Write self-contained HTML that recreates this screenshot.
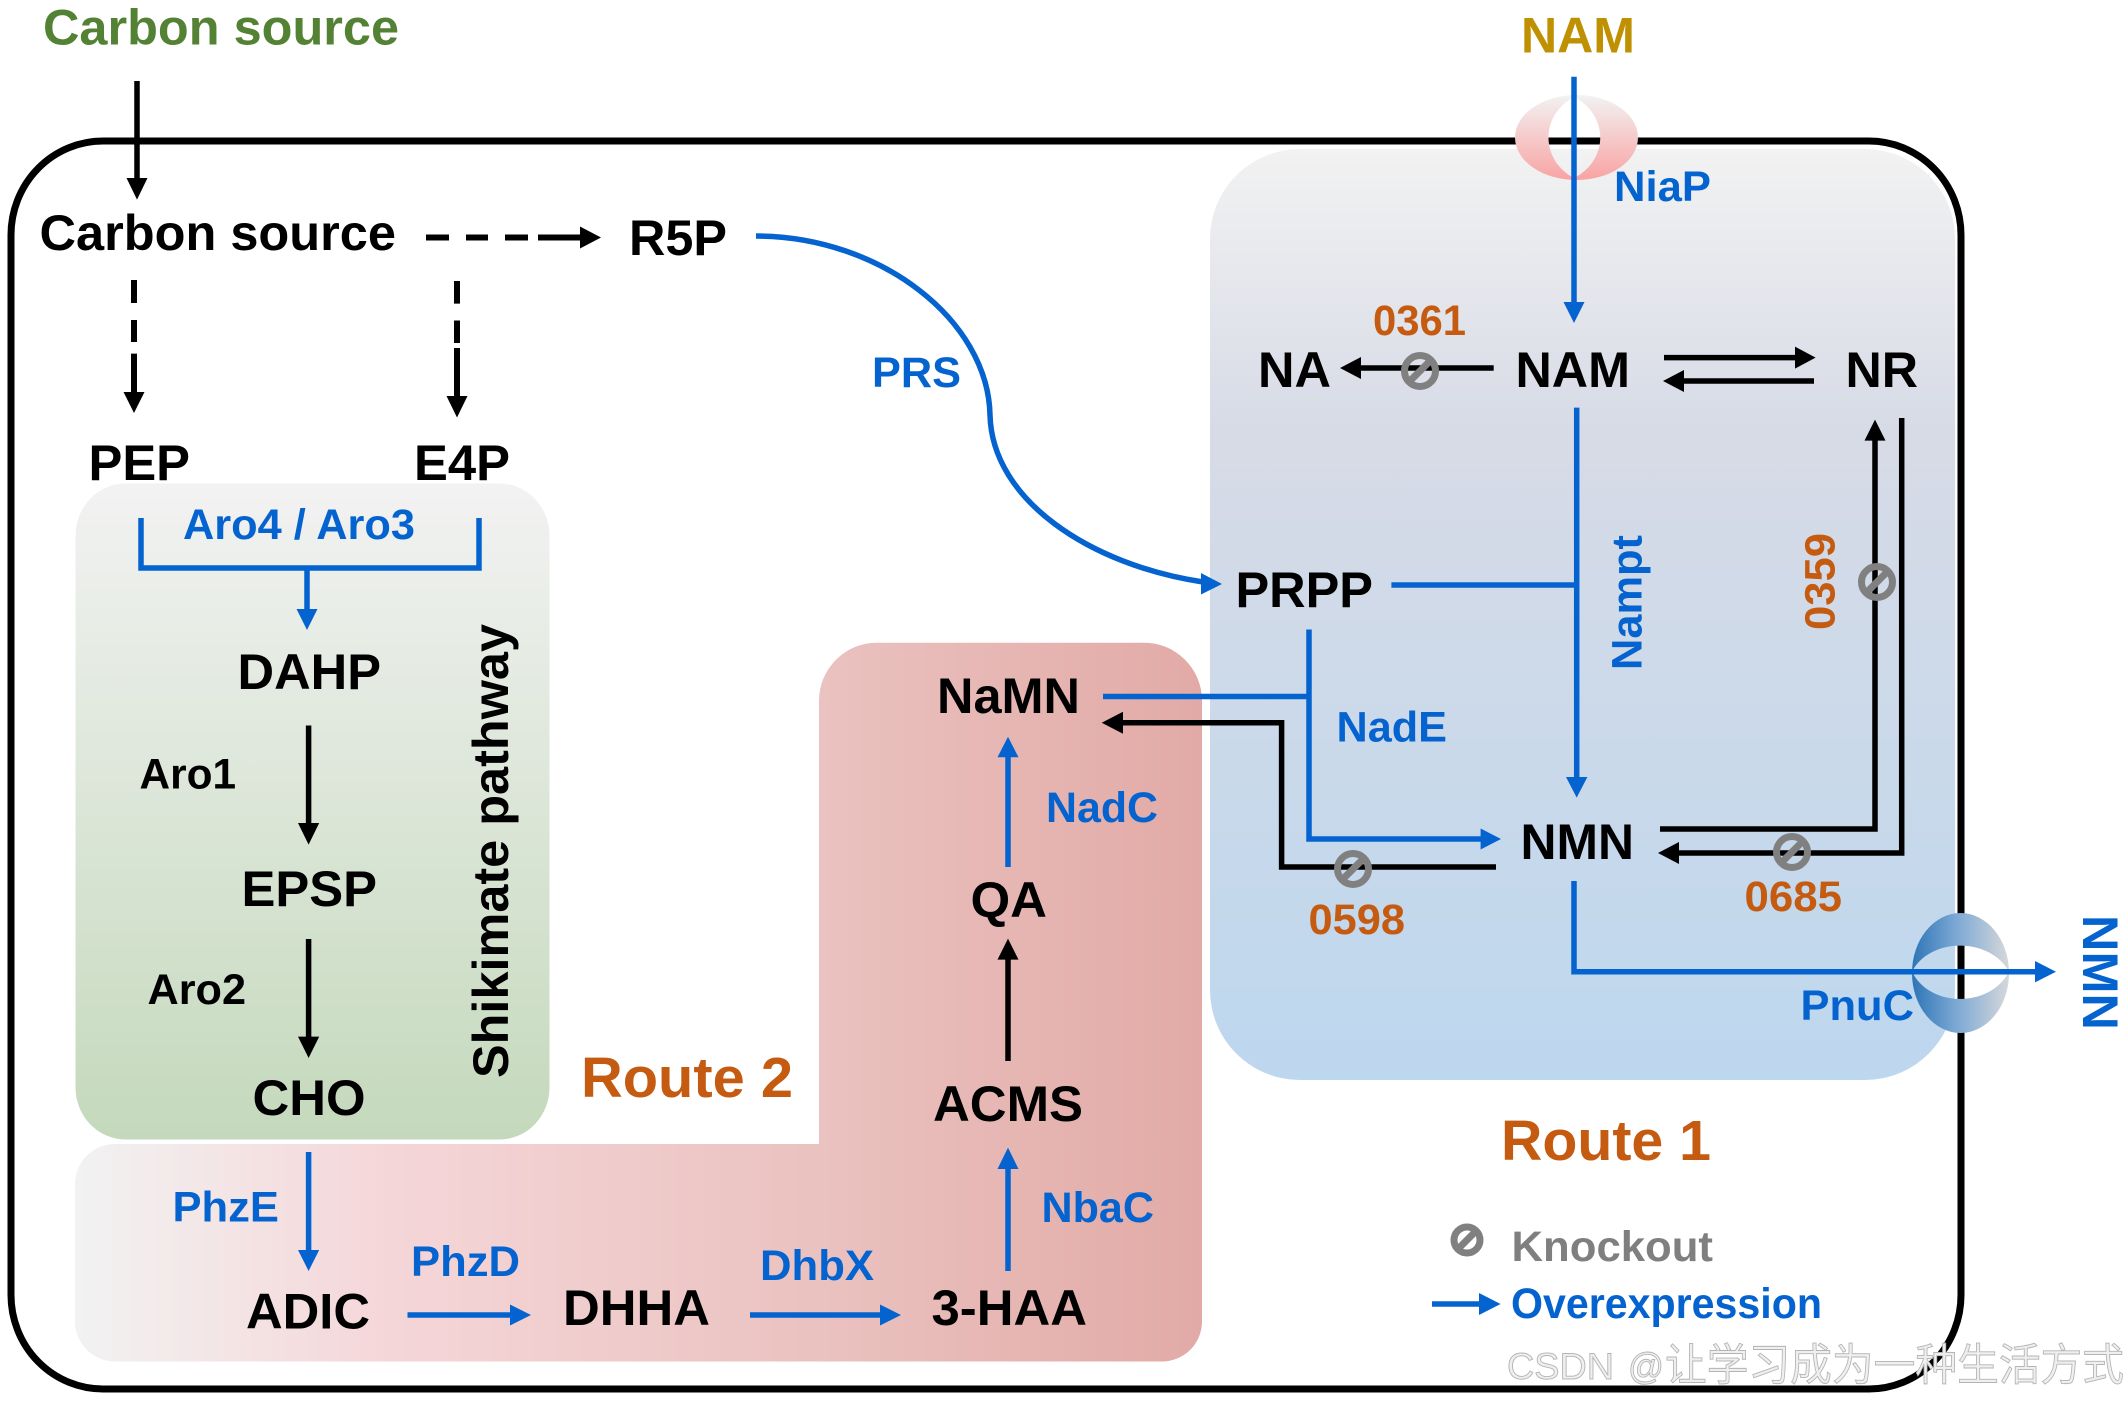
<!DOCTYPE html>
<html lang="en">
<head>
<meta charset="utf-8">
<title>NMN pathway diagram</title>
<style>
html,body{margin:0;padding:0;background:#fff;width:2128px;height:1402px;overflow:hidden}
svg{display:block}
text{font-family:"Liberation Sans","Noto Sans CJK SC",sans-serif;font-weight:bold}
.k{fill:#000;font-size:50px}
.b{fill:#0563cf;font-size:43px}
.o{fill:#c55a11;font-size:43px}
.ln{stroke:#000;stroke-width:5.5;fill:none}
.bl{stroke:#0563cf;stroke-width:5.5;fill:none}
.kh{fill:#000}
.bh{fill:#0563cf}
.ko{fill:none;stroke:#808080;stroke-width:7}
.wm{font-weight:normal;fill:#efefef;stroke:#b4b4b4;stroke-width:.9}
</style>
</head>
<body>
<svg xmlns="http://www.w3.org/2000/svg" width="2128" height="1402" viewBox="0 0 2128 1402">
<defs>
<linearGradient id="gB" x1="0" y1="0" x2="0" y2="1"><stop offset="0" stop-color="#f2f2f2"/><stop offset=".3" stop-color="#d7dbe6"/><stop offset="1" stop-color="#bdd7ee"/></linearGradient>
<linearGradient id="gG" x1="0" y1="0" x2="0" y2="1"><stop offset="0" stop-color="#f2f2f2"/><stop offset="1" stop-color="#c4d9bc"/></linearGradient>
<linearGradient id="gR" gradientUnits="userSpaceOnUse" x1="75" y1="0" x2="1202" y2="0"><stop offset="0" stop-color="#f2f2f2"/><stop offset=".28" stop-color="#f5d6d8"/><stop offset=".66" stop-color="#eac2c0"/><stop offset="1" stop-color="#e2aaa6"/></linearGradient>
<linearGradient id="gP" x1="0" y1="0" x2="0" y2="1"><stop offset="0" stop-color="#f2f2f2"/><stop offset="1" stop-color="#f9a3a3"/></linearGradient>
<linearGradient id="gC" x1="0" y1="0" x2="1" y2="0"><stop offset="0" stop-color="#2e75b6"/><stop offset=".45" stop-color="#7ba8d4"/><stop offset="1" stop-color="#d6d8da"/></linearGradient>
</defs>

<!-- panels -->
<rect x="1210" y="149" width="745" height="931" rx="90" ry="90" fill="url(#gB)"/>
<rect x="75.5" y="483.5" width="474" height="656" rx="50" ry="52" fill="url(#gG)"/>
<path d="M115 1144H819V700A58 58 0 0 1 877 642.7H1144A58 58 0 0 1 1202 700V1321A40 40 0 0 1 1162 1361.5H115A40 40 0 0 1 75 1321V1184A40 40 0 0 1 115 1144Z" fill="url(#gR)"/>

<!-- cell frame -->
<rect x="11" y="141" width="1950" height="1248" rx="92" ry="94" fill="none" stroke="#000" stroke-width="7"/>

<!-- transporters -->
<path fill-rule="evenodd" fill="url(#gP)" d="M1515 137.5A61.5 42.5 0 1 0 1638 137.5A61.5 42.5 0 1 0 1515 137.5ZM1574 97C1540 115 1540 160 1574 178C1609 160 1609 115 1574 97Z"/>
<path fill-rule="evenodd" fill="url(#gC)" d="M1912 973A48.5 60 0 1 0 2009 973A48.5 60 0 1 0 1912 973ZM1912 971.7C1930 937 1990 937 2009 971.7C1990 1008 1930 1008 1912 971.7Z"/>

<!-- black arrows -->
<path class="ln" d="M137 81V180"/><path class="kh" d="M126.500 178H147.500L137 199.600Z"/>
<path class="ln" style="stroke-width:6" d="M426 237.500H449M466 237.500H488M505 237.500H528M538 237.500H582"/><path class="kh" d="M580 226.500V248.500L601 237.500Z"/>
<path class="ln" style="stroke-width:6" d="M134 280V303M134 320V342M134 353.600V394"/><path class="kh" d="M123.500 392H144.500L134 413Z"/>
<path class="ln" style="stroke-width:6" d="M457 281V303.600M457 320.500V343M457 348V398"/><path class="kh" d="M446.500 396H467.500L457 417.500Z"/>
<path class="ln" d="M308.600 725.500V825"/><path class="kh" d="M298 823H319.200L308.600 844.600Z"/>
<path class="ln" d="M308.600 939V1038"/><path class="kh" d="M298 1036.600H319.200L308.600 1058Z"/>
<path class="ln" d="M1008 1061V958"/><path class="kh" d="M997.500 959.600H1018.500L1008 938.600Z"/>
<path class="ln" d="M1496 867H1281.600V722.700H1121"/><path class="kh" d="M1123 711.700V733.700L1101.700 722.700Z"/>
<path class="ln" d="M1493.700 368H1359"/><path class="kh" d="M1361 357V379L1340 368Z"/>
<path class="ln" d="M1664 357.600H1797"/><path class="kh" d="M1795 346.600V368.600L1815.600 357.600Z"/>
<path class="ln" d="M1814 381H1682"/><path class="kh" d="M1684 370V392L1663 381Z"/>
<path class="ln" d="M1660 829H1875V439"/><path class="kh" d="M1864.500 440.600H1885.500L1875 419.600Z"/>
<path class="ln" d="M1901.700 418V853H1677"/><path class="kh" d="M1679 842V864L1658 853Z"/>

<!-- blue arrows -->
<path class="bl" d="M141 518V568H479V518M307 568V611"/><path class="bh" d="M296.500 609H317.500L307 630Z"/>
<path class="bl" d="M308.600 1152V1252"/><path class="bh" d="M298 1250H319.200L308.600 1271Z"/>
<path class="bl" d="M407.500 1315H512"/><path class="bh" d="M510 1304.500V1325.500L531 1315Z"/>
<path class="bl" d="M750 1315H882"/><path class="bh" d="M880 1304.500V1325.500L901 1315Z"/>
<path class="bl" d="M1008 1271V1167"/><path class="bh" d="M997.500 1169H1018.500L1008 1147.600Z"/>
<path class="bl" d="M1008 867V755"/><path class="bh" d="M997.500 757.300H1018.500L1008 736.700Z"/>
<path class="bl" d="M1103 696.500H1309M1309 629.500V839H1482"/><path class="bh" d="M1480.600 828.500V849.500L1501 839Z"/>
<path class="bl" d="M1391.400 585H1576.700M1576.700 407.600V779"/><path class="bh" d="M1566 777H1587.400L1576.700 797.600Z"/>
<path class="bl" d="M1574 76.800V304"/><path class="bh" d="M1563.500 302H1584.500L1574 323Z"/>
<path class="bl" d="M1574 881V971.700H2038"/><path class="bh" d="M2035 961V982.400L2056 971.700Z"/>
<path class="bl" d="M756 236C880 236 988 320 990 415C992 500 1090 565 1203 582"/><path class="bh" d="M1201 573V594.500L1222 584Z"/>
<path class="bl" d="M1432 1304H1481"/><path class="bh" d="M1479 1293V1315L1500.600 1304Z"/>

<!-- knockout icons -->
<g class="ko">
<circle cx="1420" cy="371" r="15.500"/><path d="M1431 360L1409 382"/>
<circle cx="1877" cy="582" r="15.500"/><path d="M1888 571L1866 593"/>
<circle cx="1353" cy="869" r="15.500"/><path d="M1364 858L1342 880"/>
<circle cx="1792" cy="852" r="15.500"/><path d="M1803 841L1781 863"/>
<circle cx="1467" cy="1240" r="13"/><path d="M1476 1231L1458 1249"/>
</g>

<!-- text -->
<text x="43" y="44.600" style="fill:#548235;font-size:50px" textLength="356" lengthAdjust="spacingAndGlyphs">Carbon source</text>
<text x="39.500" y="250" class="k" textLength="356.500" lengthAdjust="spacingAndGlyphs">Carbon source</text>
<text x="629" y="255" class="k" textLength="98" lengthAdjust="spacingAndGlyphs">R5P</text>
<text x="88.500" y="480" class="k" textLength="101.500" lengthAdjust="spacingAndGlyphs">PEP</text>
<text x="414" y="480" class="k" textLength="96" lengthAdjust="spacingAndGlyphs">E4P</text>
<text x="183" y="539" class="b" textLength="232" lengthAdjust="spacingAndGlyphs">Aro4 / Aro3</text>
<text x="237.500" y="689" class="k" textLength="143.500" lengthAdjust="spacingAndGlyphs">DAHP</text>
<text class="k" transform="translate(508 1078) rotate(-90)" textLength="454" lengthAdjust="spacingAndGlyphs">Shikimate pathway</text>
<text x="139.500" y="788.600" class="b" style="fill:#000" textLength="96.500" lengthAdjust="spacingAndGlyphs">Aro1</text>
<text x="241.500" y="906" class="k" textLength="135.500" lengthAdjust="spacingAndGlyphs">EPSP</text>
<text x="147.500" y="1004" class="b" style="fill:#000" textLength="98.500" lengthAdjust="spacingAndGlyphs">Aro2</text>
<text x="252.500" y="1115" class="k" textLength="113" lengthAdjust="spacingAndGlyphs">CHO</text>
<text x="172.500" y="1221.500" class="b" textLength="106.500" lengthAdjust="spacingAndGlyphs">PhzE</text>
<text x="246" y="1328.500" class="k" textLength="124" lengthAdjust="spacingAndGlyphs">ADIC</text>
<text x="411" y="1276" class="b" textLength="109" lengthAdjust="spacingAndGlyphs">PhzD</text>
<text x="563" y="1325" class="k" textLength="147" lengthAdjust="spacingAndGlyphs">DHHA</text>
<text x="760" y="1280" class="b" textLength="114" lengthAdjust="spacingAndGlyphs">DhbX</text>
<text x="931.500" y="1325" class="k" textLength="155.500" lengthAdjust="spacingAndGlyphs">3-HAA</text>
<text x="1041.500" y="1222" class="b" textLength="112.500" lengthAdjust="spacingAndGlyphs">NbaC</text>
<text x="933" y="1121" class="k" textLength="150" lengthAdjust="spacingAndGlyphs">ACMS</text>
<text x="970.500" y="917" class="k" textLength="76.500" lengthAdjust="spacingAndGlyphs">QA</text>
<text x="1046" y="822" class="b" textLength="112" lengthAdjust="spacingAndGlyphs">NadC</text>
<text x="937" y="713" class="k" textLength="143" lengthAdjust="spacingAndGlyphs">NaMN</text>
<text x="581" y="1097" class="o" style="font-size:57px" textLength="212" lengthAdjust="spacingAndGlyphs">Route 2</text>
<text x="1501" y="1160" class="o" style="font-size:57px" textLength="210" lengthAdjust="spacingAndGlyphs">Route 1</text>
<text x="1521" y="52.700" style="fill:#bf9000;font-size:50px" textLength="114" lengthAdjust="spacingAndGlyphs">NAM</text>
<text x="1373" y="335" class="o" textLength="93" lengthAdjust="spacingAndGlyphs">0361</text>
<text x="1258" y="387" class="k" textLength="73" lengthAdjust="spacingAndGlyphs">NA</text>
<text x="1515.500" y="387" class="k" textLength="114.500" lengthAdjust="spacingAndGlyphs">NAM</text>
<text x="1845.500" y="387" class="k" textLength="72.500" lengthAdjust="spacingAndGlyphs">NR</text>
<text x="1614" y="201" class="b" textLength="97" lengthAdjust="spacingAndGlyphs">NiaP</text>
<text x="1235.500" y="607" class="k" textLength="137.500" lengthAdjust="spacingAndGlyphs">PRPP</text>
<text class="b" transform="translate(1641.500 670) rotate(-90)" textLength="135" lengthAdjust="spacingAndGlyphs">Nampt</text>
<text class="o" transform="translate(1834.500 630) rotate(-90)" textLength="97" lengthAdjust="spacingAndGlyphs">0359</text>
<text x="1336.500" y="741.600" class="b" textLength="110.500" lengthAdjust="spacingAndGlyphs">NadE</text>
<text x="1520.500" y="859" class="k" textLength="113.500" lengthAdjust="spacingAndGlyphs">NMN</text>
<text x="1308.500" y="934" class="o" textLength="96.500" lengthAdjust="spacingAndGlyphs">0598</text>
<text x="1744.500" y="911" class="o" textLength="97.500" lengthAdjust="spacingAndGlyphs">0685</text>
<text x="1800.500" y="1020" class="b" textLength="113.500" lengthAdjust="spacingAndGlyphs">PnuC</text>
<text class="b" style="font-size:50px" transform="translate(2083 915) rotate(90)" textLength="115" lengthAdjust="spacingAndGlyphs">NMN</text>
<text x="872" y="387" class="b" textLength="89" lengthAdjust="spacingAndGlyphs">PRS</text>
<text x="1511.500" y="1261" class="b" style="fill:#7f7f7f" textLength="201.500" lengthAdjust="spacingAndGlyphs">Knockout</text>
<text x="1511" y="1318" class="b" textLength="311" lengthAdjust="spacingAndGlyphs">Overexpression</text>

<!-- watermark -->
<text x="1507" y="1379" class="wm" style="font-size:37px" textLength="107" lengthAdjust="spacingAndGlyphs">CSDN</text>
<text x="1628" y="1379" class="wm" style="font-size:37px" textLength="36" lengthAdjust="spacingAndGlyphs">@</text>
<text x="1665" y="1380" class="wm" style="font-size:44px;font-family:'Noto Sans CJK SC',sans-serif" textLength="459" lengthAdjust="spacingAndGlyphs">让学习成为一种生活方式</text>
</svg>
</body>
</html>
